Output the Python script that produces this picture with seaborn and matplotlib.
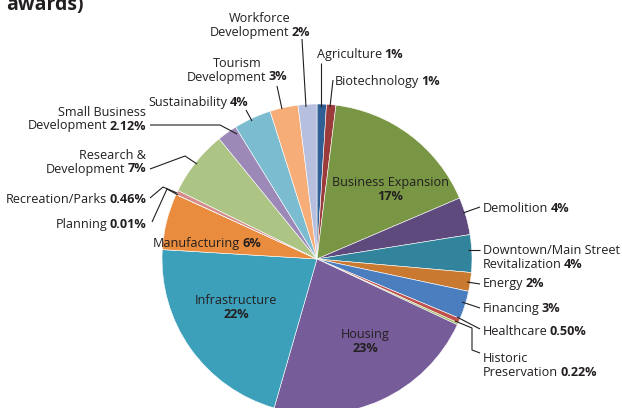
import matplotlib
matplotlib.use("Agg")
import matplotlib.pyplot as plt
import seaborn as sns
import pandas as pd

# ---- data ----
categories = ["Agriculture", "Biotechnology", "Business Expansion", "Demolition",
              "Downtown/Main Street Revitalization", "Energy", "Financing", "Healthcare",
              "Historic Preservation", "Housing", "Infrastructure", "Manufacturing",
              "Planning", "Recreation/Parks", "Research & Development",
              "Small Business Development", "Sustainability", "Tourism Development",
              "Workforce Development"]
values = [1, 1, 17, 4, 4, 2, 3, 0.50, 0.22, 23, 22, 6, 0.01, 0.46, 7, 2.12, 4, 3, 2]
pct_labels = ["1%", "1%", "17%", "4%", "4%", "2%", "3%", "0.50%", "0.22%", "23%", "22%",
              "6%", "0.01%", "0.46%", "7%", "2.12%", "4%", "3%", "2%"]
colors = ["#2f5f94", "#9b3b3b", "#789644", "#5f4a7d", "#31849b", "#c97a30", "#4a7ebf",
          "#c0504d", "#9bbb59", "#765c98", "#3da0bb", "#e98c3e", "#b4c7e7", "#d38c8a",
          "#adc584", "#9c89b7", "#7bbcd0", "#f7ad78", "#b6c0de"]

df = pd.DataFrame({"category": categories, "value": values, "pct": pct_labels})

sns.set_theme(style="white")
plt.rcParams["font.family"] = ["Open Sans", "DejaVu Sans"]

W, H = 622, 408
TXT = "#231f20"
FS = 9.1

fig = plt.figure(figsize=(W / 100, H / 100), dpi=100)
ax = fig.add_axes([0, 0, 1, 1])

def Y(y):
    return H - y

ax.pie(df["value"], colors=sns.color_palette(colors), startangle=90, counterclock=False,
       center=(317, Y(259)), radius=155,
       wedgeprops=dict(edgecolor="white", linewidth=0.4))
ax.set_xlim(0, W)
ax.set_ylim(0, H)
ax.set_aspect("equal")
ax.axis("off")

renderer = fig.canvas.get_renderer()
GAP = 2.2

def rich(x, y, segs, ha="left", fs=FS):
    ts = []
    for s, w in segs:
        t = ax.text(0, 0, s, fontsize=fs, fontweight=w, color=TXT, va="baseline", ha="left")
        ts.append(t)
    widths = [t.get_window_extent(renderer).width for t in ts]
    total = sum(widths) + GAP * (len(ts) - 1)
    if ha == "left":
        x0 = x
    elif ha == "center":
        x0 = x - total / 2
    else:
        x0 = x - total
    for t, w in zip(ts, widths):
        t.set_position((x0, Y(y)))
        x0 += w + GAP

def label(lines, x, y0, ha, pct, dy=13.5):
    n = len(lines)
    for i, ln in enumerate(lines):
        segs = [(ln, "normal")] if ln else []
        if i == n - 1:
            segs.append((pct, "bold"))
        rich(x, y0 + i * dy, segs, ha=ha)

def leader(pts):
    xs = [p[0] for p in pts]
    ys = [Y(p[1]) for p in pts]
    ax.plot(xs, ys, color=TXT, lw=0.8, solid_capstyle="butt")

P = dict(zip(df["category"], df["pct"]))

# title fragment (cut off at top, as in the source)
ax.text(6, Y(10), "awards)", fontsize=14, fontweight="bold", color=TXT, va="baseline", ha="left")

# top labels
label(["Workforce", "Development"], 260, 22.5, "center", P["Workforce Development"])
leader([(302, 39), (306, 107)])
label(["Agriculture"], 317, 58, "left", P["Agriculture"])
leader([(321, 63), (321, 107)])
label(["Biotechnology"], 335, 85, "left", P["Biotechnology"])
leader([(333, 80), (330, 107)])
label(["Tourism", "Development"], 237, 67, "center", P["Tourism Development"])
leader([(277, 86), (282, 109)])
label(["Sustainability"], 248, 106, "right", P["Sustainability"])
leader([(246, 110), (252, 121)])

# left labels
label(["Small Business", "Development"], 146, 116, "right", P["Small Business Development"])
leader([(150, 125), (220, 125), (237, 134)])
label(["Research &", "Development"], 146, 159, "right", P["Research & Development"])
leader([(150, 169), (185, 156), (197, 164)])
label(["Recreation/Parks"], 146, 203, "right", P["Recreation/Parks"])
leader([(150, 198), (163, 187), (177, 193)])
label(["Planning"], 146, 228, "right", P["Planning"])
leader([(152, 222), (167, 189), (178, 195)])
label(["Manufacturing"], 153, 247, "left", P["Manufacturing"])

# inside labels
label(["Business Expansion", ""], 390, 186, "center", P["Business Expansion"], dy=14)
label(["Infrastructure", ""], 236, 304, "center", P["Infrastructure"], dy=14)
label(["Housing", ""], 365, 338, "center", P["Housing"], dy=14)

# right labels
label(["Demolition"], 483, 212, "left", P["Demolition"])
leader([(463, 213), (480, 207)])
label(["Downtown/Main Street", "Revitalization"], 483, 254, "left",
      P["Downtown/Main Street Revitalization"])
leader([(468, 250), (480, 250)])
label(["Energy"], 483, 287, "left", P["Energy"])
leader([(467, 282), (480, 284)])
label(["Financing"], 483, 312, "left", P["Financing"])
leader([(462, 302), (480, 308)])
label(["Healthcare"], 483, 335, "left", P["Healthcare"])
leader([(457, 317), (480, 329)])
label(["Historic", "Preservation"], 483, 362, "left", P["Historic Preservation"])
leader([(455, 321), (472, 328), (472, 350), (480, 353)])

fig.savefig("out.png", dpi=100)
